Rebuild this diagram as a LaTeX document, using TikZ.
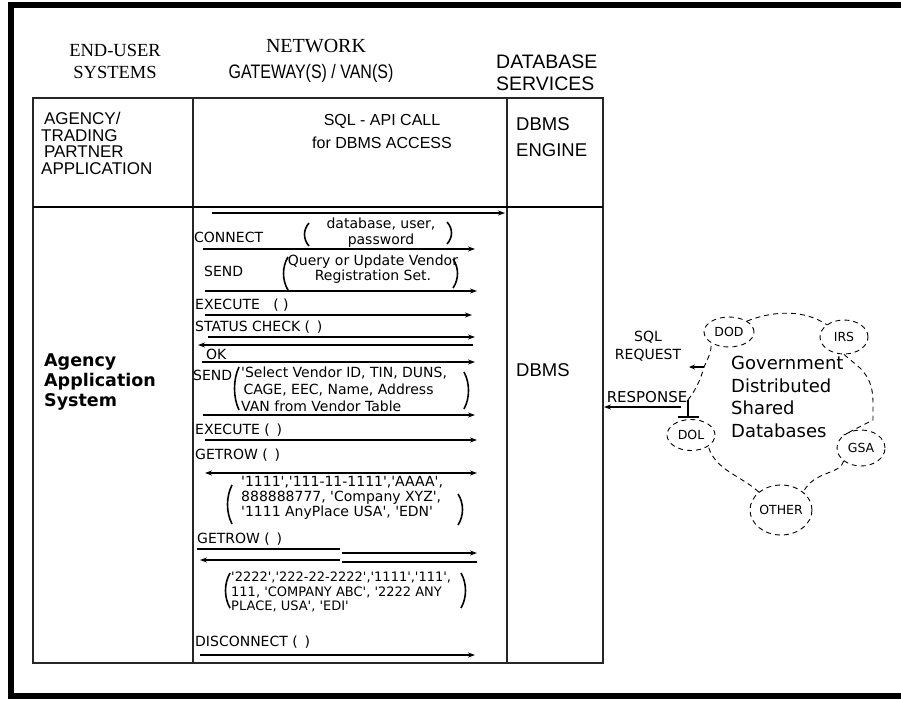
\documentclass[tikz,border=0pt]{standalone}
\usepackage{fontspec}
\setmainfont{Liberation Sans}
\newfontfamily\dvs{DejaVu Sans}
\newfontfamily\dvsb{DejaVu Sans Bold}
\newfontfamily\serifhead{Liberation Serif}
\newfontfamily\narrowsans[FakeStretch=0.82]{Liberation Sans}
\usetikzlibrary{arrows.meta,shapes.geometric}
\newcommand\lpar[3]{\draw[paren] ({#1+5},#2) .. controls ({#1-1},{#2+(#3-#2)*0.3}) and ({#1-1},{#3-(#3-#2)*0.3}) .. ({#1+5},#3);}
\newcommand\rpar[3]{\draw[paren] ({#1-5},#2) .. controls ({#1+1},{#2+(#3-#2)*0.3}) and ({#1+1},{#3-(#3-#2)*0.3}) .. ({#1-5},#3);}
\begin{document}
\begin{tikzpicture}[x=1pt,y=-1pt,
  tbl/.style={line width=1.8pt, draw=black!85},
  msg/.style={line width=1.3pt, -{Stealth[length=7pt,width=5pt]}},
  msgl/.style={line width=1.3pt, {Stealth[length=7pt,width=5pt]}-},
  msgb/.style={line width=1.3pt, {Stealth[length=7pt,width=5pt]}-{Stealth[length=7pt,width=5pt]}},
  plain/.style={line width=1.3pt},
  small/.style={font=\dvs\fontsize{14}{15}\selectfont, inner sep=0pt, anchor=west, align=left},
  cell/.style={font=\fontsize{17}{16.7}\selectfont, inner sep=0pt, align=left},
  paren/.style={line width=1.6pt},
  cloudline/.style={dash pattern=on 5pt off 4pt, line width=0.9pt},
  org/.style={ellipse, draw, cloudline, font=\dvs\fontsize{12.5}{14}\selectfont, inner sep=0pt},
]
\useasboundingbox (0,0) rectangle (901,701);
\fill[white] (0,0) rectangle (901,701);
% outer frame
\draw[line width=6pt] (910,5) -- (11,5) -- (11,696) -- (910,696);

% titles
\node[font=\serifhead\fontsize{18.5}{22}\selectfont, align=center, inner sep=0pt] (enduser) at (115,61) {END-USER\\SYSTEMS};
\node[font=\serifhead\fontsize{20}{22}\selectfont, inner sep=0pt] (network) at (316,46) {NETWORK};
\node[font=\narrowsans\fontsize{19.5}{22}\selectfont, inner sep=0pt] (gateway) at (311,73) {GATEWAY(S) / VAN(S)};
\node[font=\fontsize{19.5}{22}\selectfont, align=left, anchor=west, inner sep=0pt] (dbserv) at (496,73) {DATABASE\\SERVICES};

% table
\draw[tbl] (33,98) rectangle (603,663);
\draw[tbl] (193,98) -- (193,663);
\draw[tbl] (507,98) -- (507,663);
\draw[line width=2.4pt] (33,207) -- (603,207);

% cell headers
\node[cell, anchor=north west] (agency) at (41,112) {\,AGENCY/\\TRADING\\\,PARTNER\\APPLICATION};
\node[cell, align=center, font=\fontsize{16}{23}\selectfont] (sqlapi) at (382,131) {SQL - API CALL\\for DBMS ACCESS};
\node[cell, anchor=north west, font=\fontsize{18.5}{26}\selectfont] (engine) at (516,117) {DBMS\\ENGINE};

% row labels
\node[font=\dvsb\fontsize{17.5}{20}\selectfont, align=left, anchor=west, inner sep=0pt] (aas) at (44,382) {Agency\\Application\\System};
\node[font=\fontsize{18.5}{22}\selectfont, anchor=west, inner sep=0pt] (dbms) at (516,370) {DBMS};

% messages
\draw[msg] (212,213) -- (505,213);
\node[small] (connect) at (194,237) {CONNECT};
\node[small, anchor=center, align=center, font=\dvs\fontsize{14}{16}\selectfont] (conarg) at (381,233) {database, user,\\password};
\lpar{304}{223}{246}
\rpar{452}{222}{244}
\draw[msg] (203,249) -- (475,249);
\node[small] (send1) at (204,271) {SEND};
\node[small, anchor=center, align=center] (sendarg) at (373,269) {Query or Update Vendor\\Registration Set.};
\lpar{283}{257}{290}
\rpar{458}{259}{288}
\draw[msg] (205,291) -- (477,291);
\node[small] (exec1) at (195,305) {EXECUTE \ \ ( )};
\draw[msg] (205,315) -- (472,315);
\node[small] (status) at (195,327) {STATUS CHECK ( \,)};
\draw[msg] (208,337) -- (475,337);
\draw[msgl] (198,345) -- (473,345);
\node[small] (ok) at (206,354) {OK};
\draw[msg] (202,362) -- (475,362);
\node[small] (send2) at (193,375) {SEND};
\node[small, font=\dvs\fontsize{14}{17}\selectfont] (selarg) at (241,389) {'Select Vendor ID, TIN, DUNS,\\\,CAGE, EEC, Name, Address\\VAN from Vendor Table};
\lpar{234}{367}{410}
\rpar{469}{372}{409}
\draw[msg] (203,415) -- (475,415);
\node[small] (exec2) at (195,430) {EXECUTE ( \,)};
\draw[msg] (205,440) -- (477,440);
\node[small] (getrow1) at (195,455) {GETROW ( \,)};
\draw[msgb] (205,473) -- (477,473);
\node[small] (row1) at (241,498) {'1111','111-11-1111','AAAA',\\888888777, 'Company XYZ',\\'1111 AnyPlace USA', 'EDN'};
\lpar{227}{485}{524}
\rpar{463}{494}{525}
\node[small] (getrow2) at (197,539) {GETROW ( \,)};
\draw[plain] (197,549) -- (340,549);
\draw[msg] (342,553) -- (477,553);
\draw[msgl] (200,560) -- (340,560);
\draw[plain] (342,562) -- (477,562);
\node[small, font=\dvs\fontsize{13}{14.5}\selectfont] (row2) at (231,592) {'2222','222-22-2222','1111','111',\\111, 'COMPANY ABC', '2222 ANY\\PLACE, USA', 'EDI'};
\lpar{225}{573}{608}
\rpar{466}{573}{608}
\node[small] (disc) at (195,642) {DISCONNECT ( \,)};
\draw[msg] (200,655) -- (475,655);

% right side
\node[anchor=center, align=center, inner sep=0pt, font=\dvs\fontsize{14}{18}\selectfont] (sqlreq) at (648,346) {SQL\\REQUEST};
\node[anchor=center, inner sep=0pt, font=\dvs\fontsize{15}{15}\selectfont] (resp) at (647,397) {RESPONSE};
\coordinate (respend) at (681,407);
\draw[line width=1.3pt, -{Stealth[length=7pt,width=5pt]}] (respend) -- (604,407);
\coordinate (reqstart) at (704,367);
\draw[line width=1.3pt, -{Stealth[length=6pt,width=5pt]}] (reqstart) -- (689,367);
\draw[line width=1.1pt] (688,400) -- (688,417) (678,417) -- (699,417);

% cloud
\node[org, minimum width=50pt, minimum height=30pt] (dod) at (729,332) {DOD};
\node[org, minimum width=48pt, minimum height=34pt] (irs) at (844,337) {IRS};
\node[org, minimum width=48pt, minimum height=36pt] (gsa) at (861,448) {GSA};
\node[org, minimum width=48pt, minimum height=31pt] (dol) at (691,435) {DOL};
\node[org, minimum width=62pt, minimum height=50pt] (other) at (781,510) {OTHER};
\draw[cloudline] (dod.north east) .. controls (775,310) and (805,310) .. (irs.north west);
\draw[cloudline] (irs.south) -- (860,368) .. controls (872,380) and (873,392) .. (873,405) -- (873,420) -- (gsa.north west);
\draw[cloudline] (gsa.south west) .. controls (840,475) and (815,470) .. (other.north east);
\draw[cloudline] (other.north west) .. controls (740,475) and (715,470) .. (dol.south east);
\draw[cloudline] (688,400) .. controls (697,388) and (701,378) .. (reqstart) .. controls (707,360) and (712,352) .. (dod.south west);
\node[font=\dvs\fontsize{18}{22.5}\selectfont, align=left, anchor=north west, inner sep=0pt] (gov) at (731,356) {Government\\Distributed\\Shared\\Databases};
\end{tikzpicture}
\end{document}
